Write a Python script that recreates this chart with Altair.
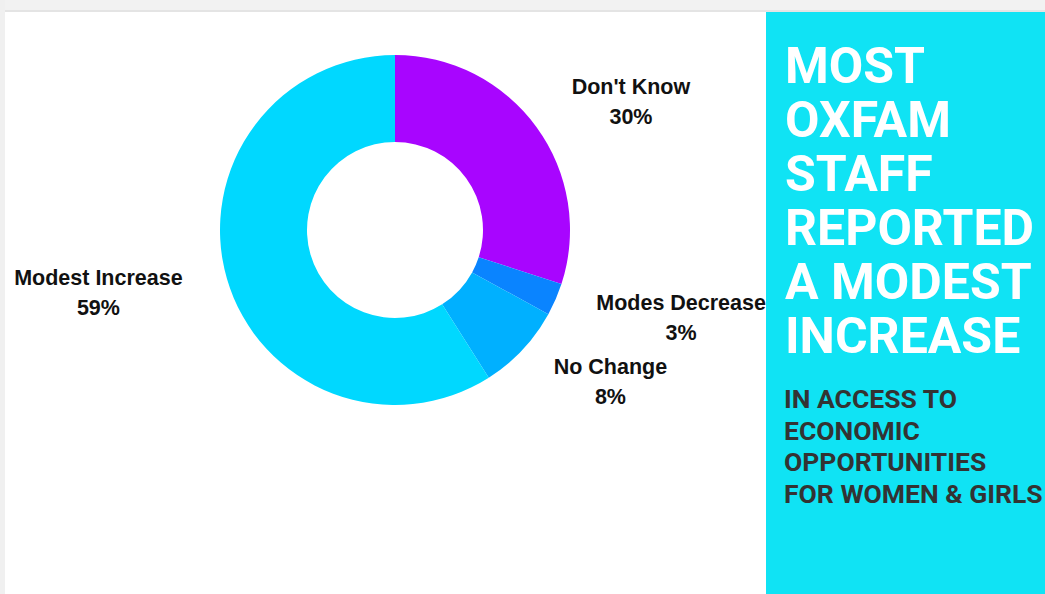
import altair as alt
import pandas as pd

categories = ["Don't Know", "Modes Decrease", "No Change", "Modest Increase"]
values = [30, 3, 8, 59]
colors = ["#a805ff", "#0a84ff", "#00b0ff", "#00d8ff"]

# label styling (radial distance in px, angular nudge in degrees)
label_radius = [269, 299, 263, 303]
label_nudge = [7.3, -6.5, -8.2, 4.4]

title_lines = ["MOST", "OXFAM", "STAFF", "REPORTED", "A MODEST", "INCREASE"]
subtitle_lines = ["IN ACCESS TO", "ECONOMIC", "OPPORTUNITIES", "FOR WOMEN & GIRLS"]

CX, CY = 395, 230

df = pd.DataFrame({
    "category": categories,
    "value": values,
    "color": colors,
    "idx": list(range(len(categories))),
    "lr": label_radius,
    "nudge": label_nudge,
})
df["label"] = [f"{c}\n{v}%" for c, v in zip(categories, values)]

one = pd.DataFrame({"a": [0]})

W, H = 1045, 594

top_band = alt.Chart(one).mark_rect(color="#f2f2f2").encode(
    x=alt.value(0), x2=alt.value(W), y=alt.value(0), y2=alt.value(12))
top_line = alt.Chart(one).mark_rect(color="#e4e4e4").encode(
    x=alt.value(5), x2=alt.value(W), y=alt.value(10), y2=alt.value(12))
left_band = alt.Chart(one).mark_rect(color="#f0f0f0").encode(
    x=alt.value(0), x2=alt.value(5), y=alt.value(0), y2=alt.value(H))
panel = alt.Chart(one).mark_rect(color="#10e3f4").encode(
    x=alt.value(766), x2=alt.value(W), y=alt.value(12), y2=alt.value(H))

donut = alt.Chart(df).mark_arc(innerRadius=88, outerRadius=175).encode(
    theta=alt.Theta("value:Q", stack=True),
    color=alt.Color("color:N", scale=None),
    order=alt.Order("idx:Q"),
    x=alt.value(CX), y=alt.value(CY),
)

labels = alt.Chart(df).transform_window(
    cum="sum(value)", sort=[alt.SortField("idx")], frame=[None, 0]
).transform_joinaggregate(total="sum(value)").transform_calculate(
    ang="((datum.cum - datum.value/2)/datum.total)*2*PI + datum.nudge*PI/180",
    lx=f"{CX} + datum.lr*sin(datum.ang)",
    ly=f"{CY} - datum.lr*cos(datum.ang)",
).mark_text(
    font="Liberation Sans", fontWeight="bold", fontSize=21.5, color="#111111",
    align="center", baseline="middle", lineBreak="\n", lineHeight=30, dy=-13,
).encode(
    x=alt.X("lx:Q", scale=None), y=alt.Y("ly:Q", scale=None), text="label:N")

title = alt.Chart(one).mark_text(
    font="Roboto", fontWeight="bold", fontSize=50, color="white",
    align="left", baseline="alphabetic", lineHeight=54,
).encode(x=alt.value(785), y=alt.value(83), text=alt.value(title_lines))

subtitle = alt.Chart(one).mark_text(
    font="Roboto", fontWeight="bold", fontSize=26.5, color="#333333",
    align="left", baseline="alphabetic", lineHeight=31.7,
).encode(x=alt.value(784), y=alt.value(408), text=alt.value(subtitle_lines))

chart = alt.layer(top_band, left_band, top_line, panel, donut, labels, title, subtitle).properties(
    width=W, height=H, autosize=alt.AutoSizeParams(type="none"), padding=0,
    background="white",
).configure_view(stroke=None)

chart.save("out.html", embed_options={"renderer": "svg", "actions": False})
